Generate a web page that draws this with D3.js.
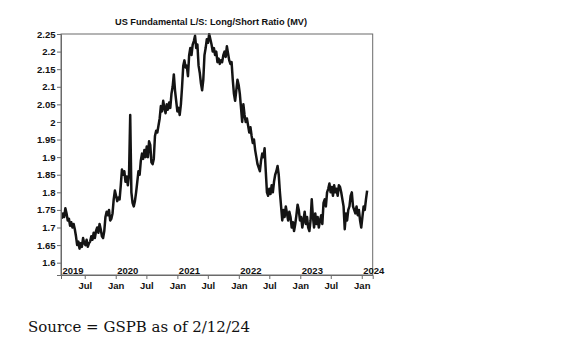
<!DOCTYPE html>
<html>
<head>
<meta charset="utf-8">
<script src="https://cdn.jsdelivr.net/npm/d3@7"></script>
<style>
  html, body { margin: 0; padding: 0; background: #fff; }
  svg { display: block; }
</style>
</head>
<body>
<svg id="chart" width="587" height="340"></svg>
<script>
// ---- data ----
const title = "US Fundamental L/S: Long/Short Ratio (MV)";
const sourceNote = "Source = GSPB as of 2/12/24";
const seriesStart = "2019-02-15";   // weekly observations
const ratioValues = [
  1.725, 1.74, 1.73, 1.755, 1.74,
  1.72, 1.725, 1.705, 1.715, 1.70, 1.71,
  1.695, 1.675, 1.65, 1.66, 1.64, 1.655,
  1.645, 1.67, 1.655, 1.65, 1.665, 1.645, 1.655,
  1.66, 1.675, 1.665, 1.685, 1.67, 1.69,
  1.70, 1.685, 1.71,
  1.695, 1.675, 1.67, 1.69,
  1.73, 1.745, 1.735, 1.75, 1.72,
  1.725, 1.74, 1.78,
  1.805, 1.79, 1.775, 1.785,
  1.78, 1.82, 1.865, 1.85,
  1.86, 1.83, 1.845, 1.82,
  1.85, 2.02,
  1.80, 1.77, 1.76, 1.775,
  1.80, 1.83, 1.86, 1.85,
  1.89, 1.91, 1.895, 1.92, 1.90, 1.93,
  1.90, 1.945, 1.935,
  1.885, 1.88, 1.895,
  1.96, 1.975, 1.97, 1.99,
  2.01, 2.045, 2.03, 2.06, 2.04,
  2.025, 2.05, 2.035, 2.055,
  2.04, 2.08, 2.10, 2.135,
  2.09, 2.06, 2.03, 2.04,
  2.02, 2.05, 2.10,
  2.16, 2.175, 2.155, 2.16,
  2.13, 2.19, 2.21,
  2.19, 2.22, 2.23, 2.245,
  2.21, 2.22, 2.16, 2.14,
  2.11, 2.09, 2.12,
  2.19, 2.21, 2.235, 2.225,
  2.25, 2.235, 2.22,
  2.20, 2.21, 2.19, 2.20,
  2.17, 2.18, 2.165, 2.175, 2.17,
  2.19, 2.20, 2.185, 2.215, 2.195,
  2.175, 2.165, 2.17,
  2.12, 2.08, 2.06, 2.09,
  2.12, 2.105, 2.08,
  2.04, 2.00, 2.05,
  2.02, 2.00, 2.01, 1.99, 1.97, 1.985,
  1.96, 1.94, 1.95, 1.92,
  1.90, 1.88, 1.87, 1.86,
  1.89, 1.91, 1.90, 1.925,
  1.86, 1.80, 1.79, 1.81,
  1.795, 1.82, 1.80, 1.83,
  1.85, 1.86, 1.875, 1.85,
  1.80, 1.76, 1.72, 1.75,
  1.73, 1.76, 1.74, 1.72,
  1.745, 1.73, 1.70, 1.715,
  1.69, 1.71, 1.735, 1.765,
  1.75, 1.72, 1.73, 1.70,
  1.72, 1.745, 1.71, 1.73,
  1.70, 1.69, 1.72, 1.78,
  1.73, 1.70, 1.74, 1.71,
  1.73, 1.70, 1.72, 1.735,
  1.71, 1.77, 1.78, 1.76,
  1.80, 1.81, 1.825, 1.80,
  1.815, 1.79, 1.82, 1.80,
  1.81, 1.79, 1.82, 1.815,
  1.80, 1.78, 1.76, 1.695,
  1.74, 1.72, 1.75, 1.76,
  1.79, 1.80, 1.76, 1.75,
  1.74, 1.76, 1.735, 1.75,
  1.72, 1.70, 1.73, 1.76,
  1.75, 1.78, 1.805
];
const yTicks = [1.6, 1.65, 1.7, 1.75, 1.8, 1.85, 1.9, 1.95, 2, 2.05, 2.1, 2.15, 2.2, 2.25];
const yearLabels = ["2019", "2020", "2021", "2022", "2023", "2024"];
const xDomain = ["2019-02-10", "2024-03-06"];
const yDomain = [1.565, 2.25];

// ---- layout ----
const svg = d3.select("#chart");
const plotL = 61, plotR = 372.7, plotT = 34, plotB = 275;
const parse = d3.timeParse("%Y-%m-%d");
const start = parse(seriesStart);
const data = ratioValues.map((v, i) => ({ date: d3.timeDay.offset(start, i * 7), value: v }));

const x = d3.scaleTime().domain(xDomain.map(parse)).range([plotL, plotR]);
const y = d3.scaleLinear().domain(yDomain).range([plotB, plotT]);

const textColor = "#111";
const frameColor = "#6a6a6a";
const fontTick = "'Liberation Sans', Arial, sans-serif";

svg.append("rect").attr("width", 587).attr("height", 340).attr("fill", "#fff");

// title
svg.append("text")
  .attr("x", 211).attr("y", 24.5)
  .attr("text-anchor", "middle")
  .attr("font-family", fontTick).attr("font-weight", "bold").attr("font-size", 9.8)
  .attr("fill", textColor)
  .attr("textLength", 192).attr("lengthAdjust", "spacingAndGlyphs")
  .text(title);

// line
svg.append("clipPath").attr("id", "plotclip")
  .append("rect").attr("x", plotL).attr("y", plotT - 1).attr("width", plotR - plotL).attr("height", plotB - plotT + 1);

svg.append("path")
  .datum(data)
  .attr("clip-path", "url(#plotclip)")
  .attr("fill", "none")
  .attr("stroke", "#141414")
  .attr("stroke-width", 2.5)
  .attr("stroke-linejoin", "round")
  .attr("d", d3.line().x(d => x(d.date)).y(d => y(d.value)));

// frame
svg.append("rect")
  .attr("x", plotL).attr("y", plotT).attr("width", plotR - plotL).attr("height", plotB - plotT)
  .attr("fill", "none").attr("stroke", frameColor).attr("stroke-width", 1);

// y axis
const yAxis = svg.append("g")
  .attr("transform", `translate(${plotL},0)`)
  .call(d3.axisLeft(y).tickValues(yTicks).tickSize(4).tickPadding(1.5).tickFormat(d3.format("")));
yAxis.select(".domain").attr("stroke", frameColor);
yAxis.selectAll(".tick line").attr("stroke", frameColor);
yAxis.selectAll("text")
  .attr("font-family", fontTick).attr("font-weight", "bold").attr("font-size", 9.5)
  .attr("fill", textColor);

// x axis (months)
const monthTicks = d3.timeMonth.every(6).range(x.domain()[0], x.domain()[1]);
const xAxis = svg.append("g")
  .attr("transform", `translate(0,${plotB})`)
  .call(d3.axisBottom(x).tickValues(monthTicks).tickSize(4).tickPadding(3).tickFormat(d3.timeFormat("%b")));
xAxis.select(".domain").attr("stroke", frameColor);
xAxis.selectAll(".tick line").attr("stroke", frameColor);
xAxis.selectAll("text")
  .attr("font-family", fontTick).attr("font-weight", "bold").attr("font-size", 9.5)
  .attr("fill", textColor);

// year labels inside plot
svg.append("g").selectAll("text")
  .data(yearLabels)
  .join("text")
  .attr("x", d => Math.max(plotL + 1.5, x(parse(d + "-01-01")) + 1.5))
  .attr("y", plotB - 1.5)
  .attr("font-family", fontTick).attr("font-weight", "bold").attr("font-size", 9.5)
  .attr("fill", textColor)
  .text(d => d);

// source note
svg.append("text")
  .attr("x", 28).attr("y", 331.5)
  .attr("font-family", "'DejaVu Serif', 'Liberation Serif', serif")
  .attr("font-size", 14)
  .attr("fill", "#111")
  .attr("textLength", 222).attr("lengthAdjust", "spacingAndGlyphs")
  .text(sourceNote);
</script>
</body>
</html>
